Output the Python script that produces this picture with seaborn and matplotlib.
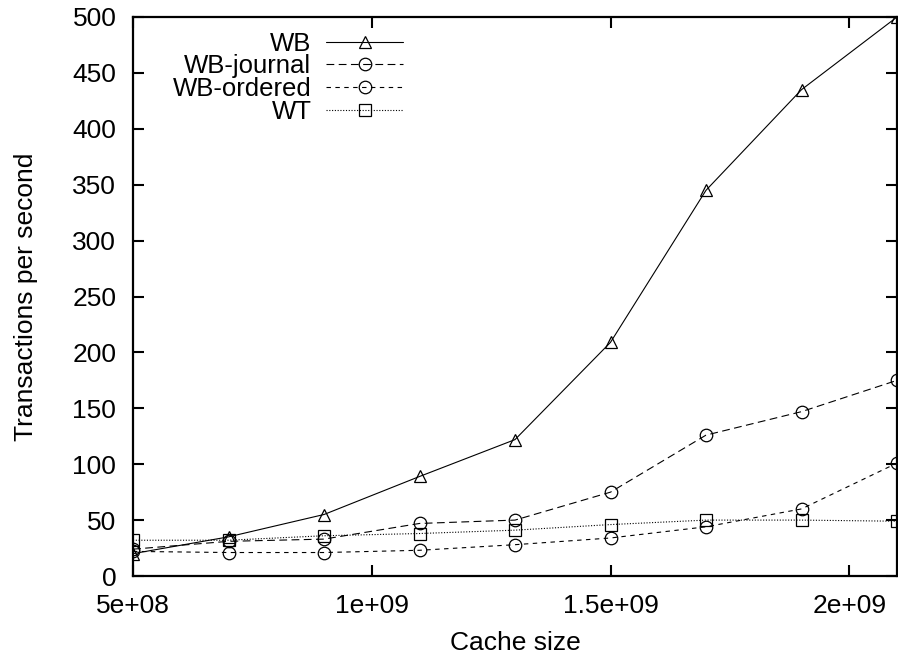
import matplotlib
matplotlib.use("Agg")
import matplotlib.pyplot as plt
import seaborn as sns
import numpy as np

cache_sizes = [5e8, 7e8, 9e8, 1.1e9, 1.3e9, 1.5e9, 1.7e9, 1.9e9, 2.1e9]
wb = [20, 35, 55, 89, 122, 209, 345, 435, 500]
wb_journal = [24, 31, 33, 47, 50, 75, 126, 147, 175]
wb_ordered = [22, 21, 21, 23, 28, 34, 44, 60, 101]
wt = [32, 32, 36, 38, 41, 46, 50, 50, 49]

x_ticks = [5e8, 1e9, 1.5e9, 2e9]
x_tick_labels = ["5e+08", "1e+09", "1.5e+09", "2e+09"]
y_ticks = list(range(0, 501, 50))

sns.set_theme(style="ticks")
plt.rcParams['font.family'] = ['Liberation Sans', 'DejaVu Sans']
plt.rcParams['text.color'] = 'black'
plt.rcParams['axes.labelcolor'] = 'black'

FS = 19
LFS = 18.5

fig = plt.figure(figsize=(8.98, 6.58), dpi=100)
ax = fig.add_axes([133/898, 82/658, 764/898, 559/658])

series = [
    ("WB", wb, "^", "-"),
    ("WB-journal", wb_journal, "o", (0, (7, 4))),
    ("WB-ordered", wb_ordered, "o", (0, (4, 4))),
    ("WT", wt, "s", (0, (1, 1.5))),
]
for name, vals, mk, ls in series:
    sns.lineplot(x=cache_sizes, y=vals, ax=ax, color="black", linewidth=0.8,
                 linestyle=ls, marker=mk, markersize=9, markerfacecolor="none",
                 markeredgecolor="black", markeredgewidth=0.9, label=name)

ax.set_xlim(5e8, 2.1e9)
ax.set_ylim(0, 500)
ax.set_xticks(x_ticks)
ax.set_xticklabels(x_tick_labels)
ax.set_yticks(y_ticks)
ax.tick_params(direction="in", length=8, width=1.5, labelsize=FS, colors="black",
               top=True, right=True)
ax.tick_params(axis="y", pad=12)
ax.tick_params(axis="x", pad=13)
for s in ax.spines.values():
    s.set_linewidth(1.6)
    s.set_color("black")

ax.set_xlabel("Cache size", fontsize=FS, labelpad=9, color="black")
ax.set_ylabel("Transactions per second", fontsize=FS, labelpad=25, color="black")

leg = ax.legend(loc="upper left", bbox_to_anchor=(0.052, 0.974), frameon=False,
                markerfirst=False, fontsize=LFS, handlelength=3.0, handletextpad=0.58,
                labelspacing=-0.05, borderpad=0, borderaxespad=0, labelcolor="black")

fig.savefig("out.png", dpi=100)
